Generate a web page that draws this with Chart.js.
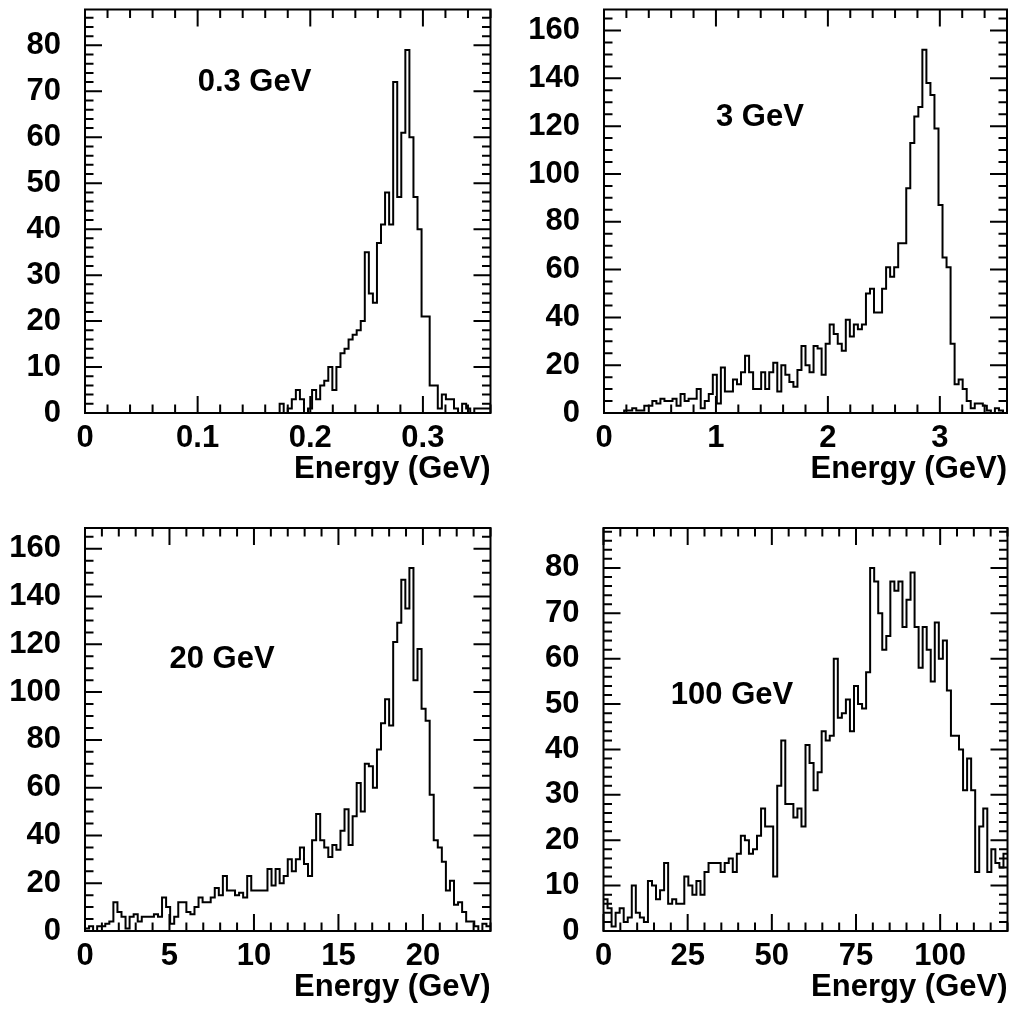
<!DOCTYPE html>
<html>
<head>
<meta charset="utf-8">
<script src="https://cdn.jsdelivr.net/npm/chart.js@4.4.1/dist/chart.umd.min.js"></script>
<style>
html, body { margin: 0; padding: 0; background: #fff; overflow: hidden; }
canvas { position: absolute; }
</style>
</head>
<body>
<canvas id="c03" width="493" height="493" style="left:0;top:0"></canvas>
<canvas id="c3" width="493" height="493" style="left:518px;top:0"></canvas>
<canvas id="c20" width="493" height="493" style="left:0;top:518px"></canvas>
<canvas id="c100" width="493" height="493" style="left:518px;top:518px"></canvas>
<script>
// bin contents, 100 equal bins from 0 to the axis maximum
var counts03 = [
  0, 0, 0, 0, 0, 0, 0, 0, 0, 0,
  0, 0, 0, 0, 0, 0, 0, 0, 0, 0,
  0, 0, 0, 0, 0, 0, 0, 0, 0, 0,
  0, 0, 0, 0, 0, 0, 0, 0, 0, 0,
  0, 0, 0, 0, 0, 0, 0, 0, 2, 0,
  1, 3, 5, 3, 0, 1, 5, 3, 6, 7,
  10, 5, 10, 13, 14, 16, 17, 18, 20, 35,
  26, 24, 37, 41, 48, 41, 72, 47, 61, 79,
  60, 47, 40, 21, 21, 6, 6, 1, 4, 3,
  3, 1, 0, 2, 1, 0, 1, 1, 1, 1
];
var counts3 = [
  0, 0, 0, 0, 0, 1, 1, 2, 1, 1,
  3, 3, 5, 4, 6, 5, 5, 6, 3, 8,
  5, 6, 6, 10, 2, 5, 8, 16, 4, 19,
  9, 9, 14, 12, 17, 24, 17, 10, 10, 17,
  10, 17, 21, 9, 20, 16, 13, 11, 18, 28,
  20, 17, 28, 27, 16, 29, 37, 33, 29, 26,
  39, 32, 37, 35, 37, 50, 52, 42, 42, 52,
  61, 57, 61, 71, 71, 94, 113, 124, 128, 152,
  138, 133, 119, 87, 65, 61, 29, 12, 14, 10,
  5, 2, 4, 4, 3, 1, 0, 2, 1, 0
];
var counts20 = [
  1, 2, 0, 2, 2, 3, 4, 12, 8, 6,
  1, 6, 7, 4, 6, 6, 6, 7, 6, 14,
  10, 3, 6, 12, 12, 8, 7, 10, 14, 12,
  12, 14, 18, 15, 23, 17, 17, 15, 16, 14,
  23, 17, 17, 17, 17, 26, 19, 26, 20, 23,
  30, 25, 30, 35, 28, 23, 38, 49, 38, 35,
  31, 36, 34, 42, 51, 36, 48, 62, 50, 70,
  69, 60, 76, 87, 97, 86, 121, 129, 147, 135,
  152, 105, 118, 93, 88, 57, 38, 35, 29, 17,
  21, 11, 12, 8, 4, 4, 2, 0, 3, 2
];
var counts100 = [
  7, 5, 1, 4, 5, 2, 3, 10, 4, 3,
  2, 11, 10, 7, 9, 15, 6, 7, 6, 6,
  12, 10, 8, 11, 8, 13, 15, 15, 15, 13,
  15, 16, 13, 17, 21, 20, 17, 18, 21, 27,
  23, 23, 12, 32, 42, 28, 28, 25, 27, 23,
  41, 37, 31, 35, 44, 42, 43, 60, 47, 48,
  51, 44, 54, 50, 49, 57, 80, 77, 70, 62,
  65, 77, 75, 77, 67, 73, 79, 67, 58, 67,
  62, 55, 68, 60, 64, 53, 43, 43, 40, 31,
  38, 31, 13, 23, 27, 13, 18, 15, 14, 17
];

var beamLabels = ['0.3 GeV', '3 GeV', '20 GeV', '100 GeV'];
var xMax = [0.36, 3.6, 24, 120];
var yMax = [87.8, 168.8, 168.7, 88.8];
var xStep = [0.1, 1, 5, 25];
var yStep = [10, 20, 20, 10];
var yDiv = [5, 4, 4, 5];
var labelAt = [[0.1, 70], [1, 120], [5, 110], [20, 50]];

Chart.defaults.font.family = '"Liberation Sans", Arial, Helvetica, sans-serif';
Chart.defaults.color = '#000';

var bold31 = { size: 31, weight: 'bold', lineHeight: 0.6 };

// ROOT style frame: box with inward ticks on all four sides + beam label
var rootFrame = {
  id: 'rootFrame',
  afterDraw: function(chart, args, o) {
    var ctx = chart.ctx, a = chart.chartArea;
    var xs = chart.scales.x, ys = chart.scales.y;
    ctx.save();
    ctx.strokeStyle = '#000';
    ctx.lineWidth = 2;
    ctx.strokeRect(a.left, a.top, a.right - a.left, a.bottom - a.top);
    ctx.beginPath();
    var xm = o.xStep / 5, i, p, len;
    for (i = 0; i * xm <= xs.max + 1e-9; i++) {
      p = xs.getPixelForValue(i * xm);
      len = i % 5 === 0 ? 17 : 8.5;
      ctx.moveTo(p, a.bottom); ctx.lineTo(p, a.bottom - len);
      ctx.moveTo(p, a.top); ctx.lineTo(p, a.top + len);
    }
    var ym = o.yStep / o.yDiv;
    for (i = 0; i * ym <= ys.max + 1e-9; i++) {
      p = ys.getPixelForValue(i * ym);
      len = i % o.yDiv === 0 ? 17 : 8.5;
      ctx.moveTo(a.left, p); ctx.lineTo(a.left + len, p);
      ctx.moveTo(a.right, p); ctx.lineTo(a.right - len, p);
    }
    ctx.stroke();
    ctx.font = 'bold 31px "Liberation Sans", Arial, sans-serif';
    ctx.fillStyle = '#000';
    ctx.textBaseline = 'alphabetic';
    ctx.fillText(o.text, xs.getPixelForValue(o.at[0]), ys.getPixelForValue(o.at[1]));
    ctx.restore();
  }
};

function histChart(id, counts, k, area) {
  var w = xMax[k] / counts.length;
  var pts = counts.map(function(c, i) { return { x: i * w, y: c }; });
  pts.push({ x: xMax[k], y: counts[counts.length - 1] });

  return new Chart(document.getElementById(id), {
    type: 'line',
    data: {
      datasets: [{
        data: pts,
        borderColor: '#000',
        borderWidth: 2,
        stepped: true,
        pointRadius: 0,
        fill: false,
        borderJoinStyle: 'miter'
      }]
    },
    options: {
      responsive: false,
      animation: false,
      devicePixelRatio: 1,
      layout: { padding: { left: 0, top: area.top, right: 493 - area.right, bottom: 5 } },
      plugins: {
        legend: { display: false },
        tooltip: { enabled: false },
        rootFrame: { text: beamLabels[k], at: labelAt[k], xStep: xStep[k], yStep: yStep[k], yDiv: yDiv[k] }
      },
      scales: {
        x: {
          type: 'linear',
          min: 0,
          max: xMax[k],
          grid: { display: false, drawTicks: false },
          border: { display: false },
          ticks: { stepSize: xStep[k], includeBounds: false, autoSkip: false, maxRotation: 0, padding: 16, font: bold31 },
          title: { display: true, text: 'Energy (GeV)', align: 'end', padding: 0,
                   font: { size: 31, weight: 'bold', lineHeight: 1.2 } },
          afterFit: function(s) { s.height = 75; s.paddingLeft = 0; s.paddingRight = 0; }
        },
        y: {
          min: 0,
          max: yMax[k],
          grid: { display: false, drawTicks: false },
          border: { display: false },
          ticks: { stepSize: yStep[k], includeBounds: false, padding: 24, font: bold31 },
          afterFit: function(s) { s.width = area.left; s.paddingTop = 0; s.paddingBottom = 0; }
        }
      }
    },
    plugins: [rootFrame]
  });
}

histChart('c03', counts03, 0, { left: 85, right: 490.5, top: 9.5 });
histChart('c3', counts3, 1, { left: 86, right: 489, top: 9.5 });
histChart('c20', counts20, 2, { left: 85, right: 490.5, top: 10 });
histChart('c100', counts100, 3, { left: 85.5, right: 489.5, top: 10 });
</script>
</body>
</html>
